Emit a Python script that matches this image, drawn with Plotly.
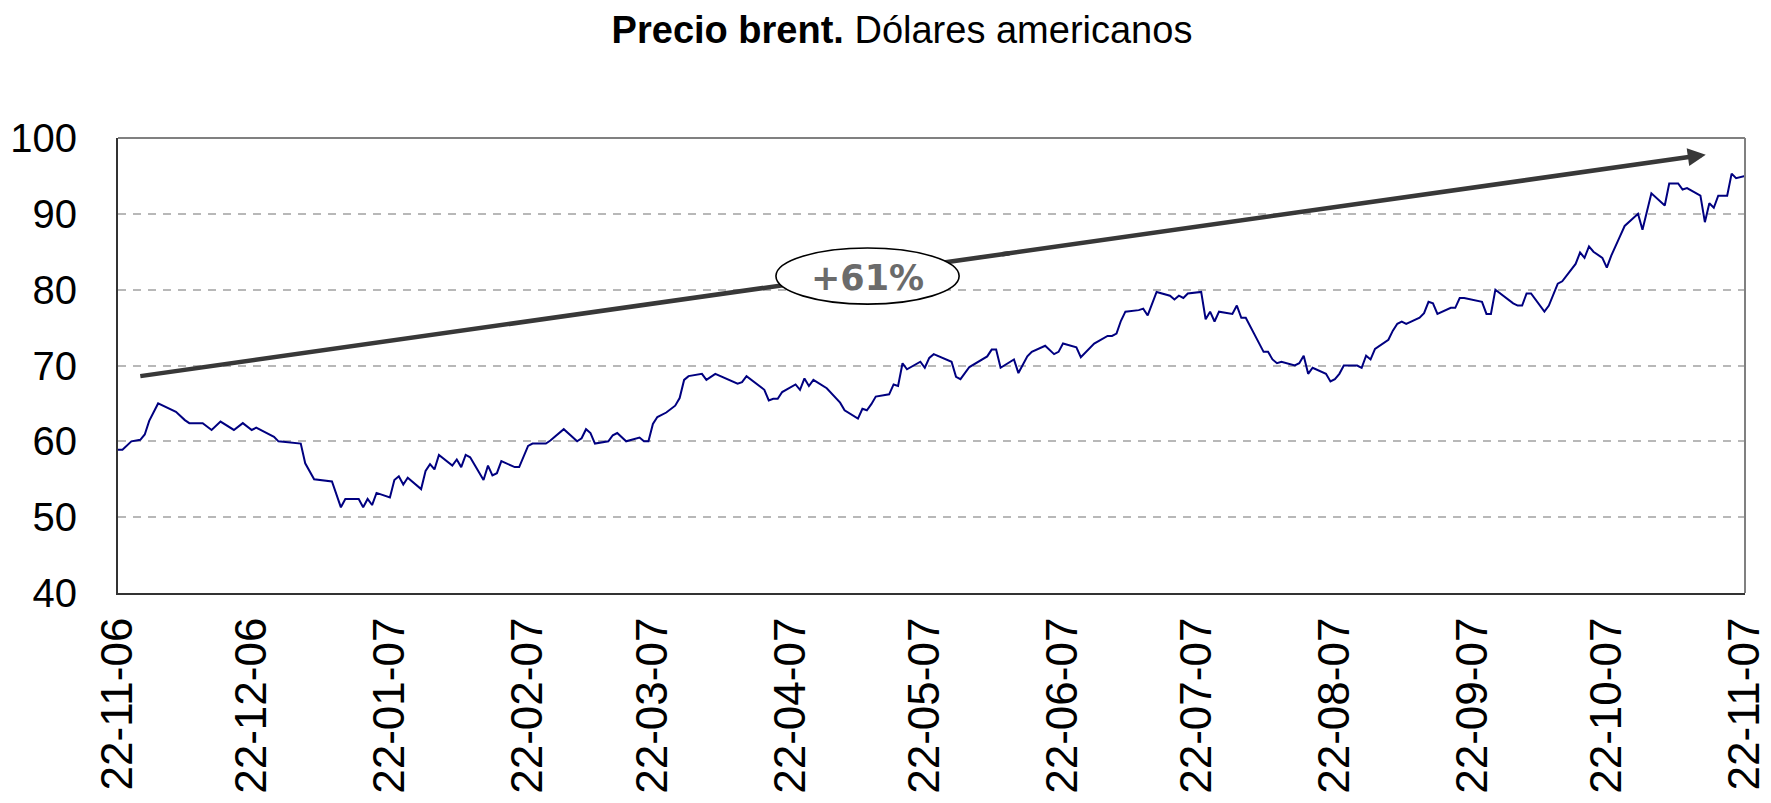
import pandas as pd
import plotly.graph_objects as go

# ---------------- data ----------------
start_date = "2006-11-22"

day_offset = [
    0, 1, 3, 5, 6, 7, 9, 13, 15, 16, 19, 21, 23, 26, 28, 30, 31, 35, 36, 41,
    42, 44, 48, 50, 51, 54, 55, 56, 57, 58, 61, 62, 63, 64, 65, 68, 69, 70, 71, 72,
    75, 76, 77, 78, 79, 82, 83, 84, 85, 86, 89, 90, 92, 93, 96, 97, 100, 103, 104, 105,
    106, 107, 110, 111, 112, 114, 117, 118, 119, 120, 121, 123, 125, 126, 127, 128, 131, 132, 134, 139,
    140, 141, 145, 146, 147, 148, 149, 152, 153, 154, 155, 156, 159, 162, 163, 166, 167, 168, 169, 170,
    173, 174, 175, 176, 177, 180, 181, 182, 183, 187, 188, 189, 191, 195, 196, 197, 198, 201, 202, 204,
    205, 208, 210, 211, 212, 215, 216, 219, 222, 223, 224, 225, 226, 229, 230, 231, 233, 236, 237, 238,
    239, 240, 243, 244, 245, 246, 247, 250, 251, 252, 253, 257, 258, 259, 260, 261, 264, 265, 266, 267,
    268, 271, 272, 273, 274, 275, 278, 279, 280, 281, 282, 285, 286, 287, 288, 289, 292, 293, 294, 295,
    296, 299, 300, 301, 302, 306, 307, 308, 309, 313, 314, 315, 316, 317, 320, 321, 323, 324, 327, 328,
    329, 330, 331, 333, 334, 335, 337, 338, 341, 342, 343, 344, 347, 348, 350, 351, 352, 355, 356, 357,
    358, 359, 361, 362, 363, 365,
]

brent_usd = [
    58.9, 58.9, 60.0, 60.2, 60.9, 62.7, 65.0, 63.9, 62.8, 62.4, 62.4, 61.5, 62.6, 61.5, 62.4, 61.5, 61.8, 60.6, 60.0, 59.7,
    57.1, 55.0, 54.7, 51.3, 52.4, 52.4, 51.3, 52.4, 51.6, 53.2, 52.6, 54.9, 55.4, 54.3, 55.2, 53.7, 56.1, 57.0, 56.3, 58.2,
    56.8, 57.6, 56.6, 58.2, 57.9, 54.9, 56.8, 55.5, 55.8, 57.4, 56.6, 56.6, 59.4, 59.7, 59.7, 60.1, 61.6, 60.0, 60.4, 61.6,
    61.1, 59.7, 60.0, 60.8, 61.1, 60.0, 60.5, 60.0, 60.0, 62.3, 63.2, 63.8, 64.7, 65.7, 68.1, 68.6, 68.9, 68.1, 68.9, 67.6,
    67.8, 68.6, 66.8, 65.4, 65.6, 65.6, 66.5, 67.5, 66.8, 68.3, 67.3, 68.1, 67.0, 65.1, 64.1, 63.0, 64.3, 64.1, 64.9, 65.9,
    66.2, 67.5, 67.3, 70.3, 69.5, 70.5, 69.7, 71.0, 71.5, 70.5, 68.5, 68.2, 69.8, 71.2, 72.1, 72.1, 69.7, 70.8, 69.0, 71.2,
    71.8, 72.6, 71.5, 71.8, 72.9, 72.4, 71.1, 72.9, 73.9, 73.9, 74.2, 75.9, 77.1, 77.3, 77.5, 76.6, 79.7, 79.2, 78.7, 79.2,
    78.9, 79.5, 79.7, 76.1, 77.1, 75.8, 77.1, 76.8, 77.9, 76.3, 76.3, 71.8, 71.8, 70.8, 70.3, 70.5, 70.0, 70.3, 71.3, 68.9,
    69.7, 68.9, 67.9, 68.2, 68.9, 70.0, 70.0, 69.7, 71.3, 70.8, 72.2, 73.4, 74.6, 75.5, 75.8, 75.5, 76.3, 76.9, 78.4, 78.2,
    76.8, 77.6, 77.6, 78.9, 78.9, 78.4, 76.8, 76.8, 80.0, 78.2, 77.9, 77.9, 79.5, 79.5, 77.1, 77.9, 80.8, 81.1, 83.4, 84.9,
    84.2, 85.7, 85.0, 84.2, 82.9, 84.5, 87.1, 88.4, 90.0, 87.9, 90.3, 92.7, 91.1, 94.0, 94.0, 93.2, 93.4, 92.4, 88.9, 91.4,
    90.8, 92.4, 92.4, 95.3, 94.7, 95.0,
]

tick_dates = [
    "2006-11-22", "2006-12-22", "2007-01-22", "2007-02-22", "2007-03-22", "2007-04-22",
    "2007-05-22", "2007-06-22", "2007-07-22", "2007-08-22", "2007-09-22", "2007-10-22", "2007-11-22",
]
tick_labels = [
    "22-11-06", "22-12-06", "22-01-07", "22-02-07", "22-03-07", "22-04-07",
    "22-05-07", "22-06-07", "22-07-07", "22-08-07", "22-09-07", "22-10-07", "22-11-07",
]
y_ticks = [40, 50, 60, 70, 80, 90, 100]

change_label = "+61%"
# trend arrow (day offset, value)
arrow_start = (5.0, 68.6)
arrow_end = (356.2, 97.8)
# label ellipse: day-offset span and value span
ellipse_days = (147.6, 188.7)
ellipse_vals = (78.1, 85.5)

# ---------------- build ----------------
t0 = pd.Timestamp(start_date)


def at(day):
    return (t0 + pd.Timedelta(days=day)).strftime("%Y-%m-%d %H:%M")


dates = [at(d) for d in day_offset]

FONT = "Liberation Sans, Arial, sans-serif"

# the page body keeps its default 8px margin; the figure starts 8px in and reaches the window edge
W, H = 1763, 787

fig = go.Figure()
fig.add_trace(go.Scatter(
    x=dates, y=brent_usd, mode="lines",
    line=dict(color="#000080", width=2),
    hoverinfo="skip", showlegend=False,
))

# arrow shaft (split so the ellipse can sit over it)
split_day = 200.0
slope = (arrow_end[1] - arrow_start[1]) / (arrow_end[0] - arrow_start[0])
split_val = arrow_start[1] + slope * (split_day - arrow_start[0])
shapes = [
    dict(type="line", xref="x", yref="y",
         x0=at(arrow_start[0]), y0=arrow_start[1], x1=at(split_day), y1=split_val,
         line=dict(color="#383838", width=4.5), layer="above"),
    dict(type="circle", xref="x", yref="y",
         x0=at(ellipse_days[0]), x1=at(ellipse_days[1]),
         y0=ellipse_vals[0], y1=ellipse_vals[1],
         fillcolor="white", line=dict(color="black", width=1.6), layer="above"),
    # top and right frame in lighter grey
    dict(type="line", xref="paper", yref="paper", x0=0, x1=1, y0=1, y1=1,
         line=dict(color="#808080", width=2), layer="above"),
    dict(type="line", xref="paper", yref="paper", x0=1, x1=1, y0=0, y1=1,
         line=dict(color="#808080", width=2), layer="above"),
]

annotations = [
    dict(x=at(arrow_end[0]), y=arrow_end[1], xref="x", yref="y",
         ax=at(split_day - 2), ay=split_val - slope * 2,
         axref="x", ayref="y", text="", showarrow=True,
         arrowhead=2, arrowsize=0.8, arrowwidth=4.5, arrowcolor="#383838"),
    dict(x=at((ellipse_days[0] + ellipse_days[1]) / 2), y=81.6, xref="x", yref="y",
         text="<b>" + change_label + "</b>", showarrow=False,
         font=dict(family="DejaVu Sans, Verdana, sans-serif", size=35, color="#6b6b6b")),
]

fig.update_layout(
    width=W, height=H,
    margin=dict(l=110, r=26, t=130, b=202, autoexpand=False),
    paper_bgcolor="white", plot_bgcolor="white",
    title=dict(
        text="<b>Precio brent.</b> Dólares americanos",
        font=dict(family=FONT, size=38, color="black"),
        x=894 / W, xanchor="center", xref="container",
        y=1 - 8.5 / H, yanchor="top", yref="container",
    ),
    shapes=shapes,
    annotations=annotations,
    showlegend=False,
)

fig.update_xaxes(
    type="date", range=[at(0), at(365)],
    tickmode="array", tickvals=tick_dates, ticktext=tick_labels,
    tickangle=-90, tickfont=dict(family=FONT, size=44, color="black"),
    showgrid=False, zeroline=False, ticks="",
    showline=True, linecolor="#333333", linewidth=2,
    ticklabelstandoff=5, automargin=False, ticklabeloverflow="allow",
)
fig.update_yaxes(
    range=[40, 100], tickmode="array", tickvals=y_ticks,
    tickfont=dict(family=FONT, size=40, color="black"),
    showgrid=True, gridcolor="#b8b8b8", gridwidth=1.5, griddash="8px,7px",
    zeroline=False, ticks="",
    showline=True, linecolor="#333333", linewidth=2,
    ticklabelstandoff=31, automargin=False,
)

fig.write_html("out.html")
